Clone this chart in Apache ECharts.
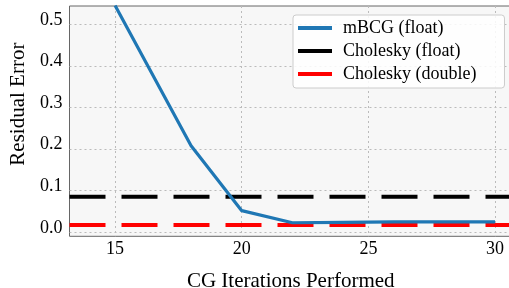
<!DOCTYPE html>
<html>
<head>
<meta charset="utf-8">
<script src="https://cdn.jsdelivr.net/npm/echarts@6/dist/echarts.min.js"></script>
<style>
html,body{margin:0;padding:0;background:#fff;}
#c{width:509px;height:288px;}
</style>
</head>
<body>
<div id="c"></div>
<script>
// Data
const xTicks = [15, 20, 25, 30];
const yTicks = [0.0, 0.1, 0.2, 0.3, 0.4, 0.5];
const xRange = [13.2, 30.67];
const yRange = [-0.0096, 0.544];

const mbcgIters = [15, 18, 20, 22, 24, 26, 28, 30];
const mbcgError = [0.545, 0.208, 0.052, 0.023, 0.024, 0.025, 0.025, 0.025];

const choleskyFloatError = 0.0856;
const choleskyDoubleError = 0.0175;

const seriesNames = ['mBCG (float)', 'Cholesky (float)', 'Cholesky (double)'];

const FONT = 'Liberation Serif';

const chart = echarts.init(document.getElementById('c'), null, {renderer: 'canvas'});

const hline = (v) => [[xRange[0], v], [xRange[1], v]];
const tickRich = {t: {fontFamily: FONT, fontSize: 18, color: '#000', lineHeight: 18}};

chart.setOption({
  animation: false,
  backgroundColor: '#ffffff',
  textStyle: {fontFamily: FONT, color: '#000'},
  grid: {
    left: 69.5, top: 6, width: 442.5, height: 230.3,
    outerBoundsMode: 'none',
    containLabel: false,
    show: true, backgroundColor: '#f7f7f7', borderColor: '#666', borderWidth: 1
  },
  legend: {
    orient: 'vertical',
    left: 293, top: 15,
    padding: [4, 28, 5, 5],
    itemGap: 5,
    itemWidth: 34, itemHeight: 4,
    icon: 'rect',
    backgroundColor: 'rgba(255,255,255,0.85)',
    borderColor: '#cccccc', borderWidth: 1, borderRadius: 3,
    textStyle: {fontFamily: FONT, fontSize: 18, color: '#000', lineHeight: 18, padding: [0, 0, 0, 6]},
    data: seriesNames
  },
  xAxis: {
    type: 'value',
    min: xRange[0], max: xRange[1],
    name: 'CG Iterations Performed',
    nameLocation: 'middle',
    nameGap: 34.5,
    nameTextStyle: {fontFamily: FONT, fontSize: 21, color: '#000', lineHeight: 21},
    axisLine: {show: false},
    axisTick: {show: false, customValues: xTicks},
    axisLabel: {
      customValues: xTicks, fontFamily: FONT, fontSize: 18, color: '#000', margin: 4,
      formatter: (v) => '{t|' + v + '}', rich: tickRich
    },
    splitLine: {show: true, lineStyle: {color: '#bbbbbb', width: 1, type: [2, 3]}}
  },
  yAxis: {
    type: 'value',
    min: yRange[0], max: yRange[1],
    name: 'Residual Error',
    nameLocation: 'middle',
    nameRotate: 90,
    nameGap: 24,
    nameTextStyle: {fontFamily: FONT, fontSize: 21, color: '#000', lineHeight: 21, padding: [0, 0, 0, 34]},
    axisLine: {show: false},
    axisTick: {show: false, customValues: yTicks},
    axisLabel: {
      customValues: yTicks, fontFamily: FONT, fontSize: 18, color: '#000', margin: 7,
      padding: [0, 0, 9, 0],
      formatter: (v) => '{t|' + v.toFixed(1) + '}', rich: tickRich
    },
    splitLine: {show: true, lineStyle: {color: '#bbbbbb', width: 1, type: [2, 3]}}
  },
  series: [
    {
      name: seriesNames[0], type: 'line', showSymbol: false, symbol: 'none', clip: true,
      color: '#1f77b4',
      lineStyle: {color: '#1f77b4', width: 3.2},
      data: mbcgIters.map((x, i) => [x, mbcgError[i]]),
      z: 3
    },
    {
      name: seriesNames[1], type: 'line', showSymbol: false, symbol: 'none',
      color: '#000000',
      lineStyle: {color: '#000000', width: 4, type: [36, 16], cap: 'butt'},
      data: hline(choleskyFloatError),
      z: 2
    },
    {
      name: seriesNames[2], type: 'line', showSymbol: false, symbol: 'none',
      color: '#ff0000',
      lineStyle: {color: '#ff0000', width: 4, type: [36, 16], cap: 'butt'},
      data: hline(choleskyDoubleError),
      z: 2
    }
  ]
});
</script>
</body>
</html>
